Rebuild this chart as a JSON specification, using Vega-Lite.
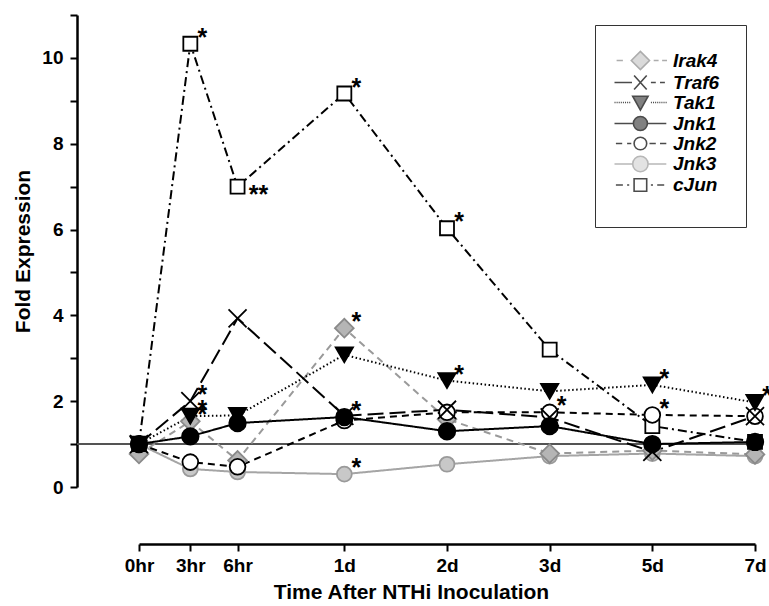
{
  "$schema": "https://vega.github.io/schema/vega-lite/v6.json",
  "width": 616,
  "height": 472,
  "autosize": "none",
  "padding": {"left": 139, "top": 15, "right": 14, "bottom": 119},
  "background": "white",
  "config": {
    "view": {"stroke": null},
    "font": "Liberation Sans",
    "axis": {"grid": false, "domainColor": "black", "domainWidth": 2.5, "tickColor": "black", "tickWidth": 2, "tickSize": 7, "labelFont": "Liberation Sans", "labelFontSize": 19, "labelFontWeight": "bold", "labelColor": "black", "labelFlush": false, "labelOverlap": false, "titleFont": "Liberation Sans", "titleFontSize": 21, "titleFontWeight": "bold", "titleColor": "black"},
    "legend": {"orient": "none", "legendX": 456, "legendY": 10, "padding": 26, "strokeColor": "#333", "symbolSize": 196, "symbolStrokeWidth": 1.6, "symbolOffset": 33, "labelOffset": 0, "labelFont": "Liberation Sans", "labelFontSize": 19, "labelFontWeight": "bold", "labelFontStyle": "italic", "labelColor": "black", "rowPadding": -1.5, "titleOrient": "bottom", "titleFontSize": 6, "titlePadding": 0}
  },
  "data": {"values": [
    {"gene":"Jnk3","t":0,"v":1.0,"sig":""},
    {"gene":"Jnk3","t":0.5,"v":0.42,"sig":""},
    {"gene":"Jnk3","t":0.96,"v":0.35,"sig":""},
    {"gene":"Jnk3","t":2,"v":0.3,"sig":"*"},
    {"gene":"Jnk3","t":3,"v":0.53,"sig":""},
    {"gene":"Jnk3","t":4,"v":0.72,"sig":""},
    {"gene":"Jnk3","t":5,"v":0.78,"sig":""},
    {"gene":"Jnk3","t":6,"v":0.72,"sig":""},
    {"gene":"Irak4","t":0,"v":0.77,"sig":""},
    {"gene":"Irak4","t":0.5,"v":1.53,"sig":"*"},
    {"gene":"Irak4","t":0.96,"v":0.62,"sig":""},
    {"gene":"Irak4","t":2,"v":3.7,"sig":"*"},
    {"gene":"Irak4","t":3,"v":1.58,"sig":""},
    {"gene":"Irak4","t":4,"v":0.78,"sig":""},
    {"gene":"Irak4","t":5,"v":0.85,"sig":""},
    {"gene":"Irak4","t":6,"v":0.76,"sig":""},
    {"gene":"cJun","t":0,"v":1.0,"sig":""},
    {"gene":"cJun","t":0.5,"v":10.33,"sig":"*"},
    {"gene":"cJun","t":0.96,"v":7.0,"sig":"**"},
    {"gene":"cJun","t":2,"v":9.17,"sig":"*"},
    {"gene":"cJun","t":3,"v":6.03,"sig":"*"},
    {"gene":"cJun","t":4,"v":3.2,"sig":""},
    {"gene":"cJun","t":5,"v":1.42,"sig":""},
    {"gene":"cJun","t":6,"v":1.05,"sig":""},
    {"gene":"Jnk2","t":0,"v":1.0,"sig":""},
    {"gene":"Jnk2","t":0.5,"v":0.58,"sig":""},
    {"gene":"Jnk2","t":0.96,"v":0.47,"sig":""},
    {"gene":"Jnk2","t":2,"v":1.55,"sig":""},
    {"gene":"Jnk2","t":3,"v":1.74,"sig":""},
    {"gene":"Jnk2","t":4,"v":1.74,"sig":"*"},
    {"gene":"Jnk2","t":5,"v":1.68,"sig":"*"},
    {"gene":"Jnk2","t":6,"v":1.65,"sig":""},
    {"gene":"Traf6","t":0,"v":1.0,"sig":""},
    {"gene":"Traf6","t":0.5,"v":2.0,"sig":"*"},
    {"gene":"Traf6","t":0.96,"v":3.93,"sig":""},
    {"gene":"Traf6","t":2,"v":1.66,"sig":""},
    {"gene":"Traf6","t":3,"v":1.8,"sig":""},
    {"gene":"Traf6","t":4,"v":1.62,"sig":""},
    {"gene":"Traf6","t":5,"v":0.82,"sig":""},
    {"gene":"Traf6","t":6,"v":1.65,"sig":""},
    {"gene":"Tak1","t":0,"v":1.0,"sig":""},
    {"gene":"Tak1","t":0.5,"v":1.65,"sig":"*"},
    {"gene":"Tak1","t":0.96,"v":1.67,"sig":""},
    {"gene":"Tak1","t":2,"v":3.08,"sig":""},
    {"gene":"Tak1","t":3,"v":2.48,"sig":"*"},
    {"gene":"Tak1","t":4,"v":2.23,"sig":""},
    {"gene":"Tak1","t":5,"v":2.38,"sig":"*"},
    {"gene":"Tak1","t":6,"v":1.97,"sig":"*"},
    {"gene":"Jnk1","t":0,"v":1.0,"sig":""},
    {"gene":"Jnk1","t":0.5,"v":1.18,"sig":""},
    {"gene":"Jnk1","t":0.96,"v":1.49,"sig":""},
    {"gene":"Jnk1","t":2,"v":1.63,"sig":"*"},
    {"gene":"Jnk1","t":3,"v":1.3,"sig":""},
    {"gene":"Jnk1","t":4,"v":1.42,"sig":""},
    {"gene":"Jnk1","t":5,"v":1.0,"sig":""},
    {"gene":"Jnk1","t":6,"v":1.05,"sig":""}
  ]},
  "encoding": {
    "x": {"field": "t", "type": "quantitative", "scale": {"domain": [0, 6], "nice": false, "zero": false},
      "axis": {"title": "Time After NTHi Inoculation", "offset": 57, "values": [0, 0.5, 0.96, 2, 3, 4, 5, 6],
        "labelExpr": "datum.value == 0 ? '0hr' : datum.value == 0.5 ? '3hr' : datum.value == 0.96 ? '6hr' : datum.value == 2 ? '1d' : datum.value == 3 ? '2d' : datum.value == 4 ? '3d' : datum.value == 5 ? '5d' : '7d'",
        "labelPadding": 5, "titlePadding": 6, "titleX": 272}},
    "y": {"field": "v", "type": "quantitative", "scale": {"domain": [0, 11], "nice": false},
      "axis": {"title": "Fold Expression", "offset": 62, "values": [0, 1, 2, 3, 4, 5, 6, 7, 8, 9, 10, 11],
        "labelExpr": "datum.value % 2 == 0 && datum.value <= 10 ? datum.label : ''", "labelPadding": 7, "titlePadding": 8}}
  },
  "layer": [
    {
      "mark": {"type": "rule", "color": "#555", "strokeWidth": 1.2},
      "encoding": {
        "x": {"datum": -0.6, "type": "quantitative"},
        "x2": {"datum": 6},
        "y": {"datum": 1, "type": "quantitative"}
      }
    },
    {
      "mark": {"type": "line", "strokeWidth": 2},
      "encoding": {
        "detail": {"field": "gene"},
        "stroke": {"field": "gene", "type": "nominal", "legend": null,
          "scale": {"domain": ["Irak4", "Traf6", "Tak1", "Jnk1", "Jnk2", "Jnk3", "cJun"], "range": ["#9a9a9a", "#000000", "#000000", "#000000", "#000000", "#a5a5a5", "#000000"]}},
        "strokeDash": {"field": "gene", "type": "nominal", "legend": null,
          "scale": {"domain": ["Irak4", "Traf6", "Tak1", "Jnk1", "Jnk2", "Jnk3", "cJun"], "range": [[7, 5], [16, 6], [1.5, 2.5], [1, 0], [7, 5], [1, 0], [9, 4, 2, 4]]}}
      }
    },
    {
      "mark": {"type": "point", "filled": true, "strokeWidth": 1.8, "opacity": 1},
      "encoding": {
        "shape": {"field": "gene", "type": "nominal", "legend": null,
          "scale": {"domain": ["Irak4", "Traf6", "Tak1", "Jnk1", "Jnk2", "Jnk3", "cJun"], "range": ["diamond", "M-1,-1L1,1M1,-1L-1,1", "triangle-down", "circle", "circle", "circle", "square"]}},
        "size": {"field": "gene", "type": "nominal", "legend": null,
          "scale": {"domain": ["Irak4", "Traf6", "Tak1", "Jnk1", "Jnk2", "Jnk3", "cJun"], "range": [350, 196, 250, 256, 225, 289, 196]}},
        "fill": {"field": "gene", "type": "nominal", "legend": null,
          "scale": {"domain": ["Irak4", "Traf6", "Tak1", "Jnk1", "Jnk2", "Jnk3", "cJun"], "range": ["#b5b5b5", "#000000", "#000000", "#000000", "#ffffff", "#c8c8c8", "#ffffff"]}},
        "stroke": {"field": "gene", "type": "nominal", "legend": null,
          "scale": {"domain": ["Irak4", "Traf6", "Tak1", "Jnk1", "Jnk2", "Jnk3", "cJun"], "range": ["#8a8a8a", "#000000", "#000000", "#000000", "#000000", "#9a9a9a", "#000000"]}}
      }
    },
    {
      "transform": [{"filter": "datum.sig == '*'"}],
      "mark": {"type": "text", "fontSize": 25, "fontWeight": "bold", "font": "Liberation Sans", "color": "black", "align": "center", "baseline": "alphabetic", "dx": 12, "dy": 2},
      "encoding": {"text": {"field": "sig"}}
    },
    {
      "transform": [{"filter": "datum.sig == '**'"}],
      "mark": {"type": "text", "fontSize": 25, "fontWeight": "bold", "font": "Liberation Sans", "color": "black", "align": "center", "baseline": "alphabetic", "dx": 21, "dy": 16},
      "encoding": {"text": {"field": "sig"}}
    },
    {
      "transform": [{"filter": "false"}],
      "mark": {"type": "point", "filled": true, "strokeWidth": 1.6},
      "encoding": {
        "shape": {"field": "gene", "type": "nominal",
          "legend": {"title": " "},
          "scale": {"domain": ["Irak4", "Traf6", "Tak1", "Jnk1", "Jnk2", "Jnk3", "cJun"], "range": [
            "M-6.7,0H-5.8M-4.6,0L-3.3,-1.3L-2,0L-3.3,1.3ZM-1.4,0H-0.7M-0.2,0H0.5",
            "M-7,0H-4.5M-4.2,-1L-2.4,1M-2.4,-1L-4.2,1M-1.8,0H-1.1M-0.5,0H0.2",
            "M-7,0h0.15M-6.7,0h0.15M-6.4,0h0.15M-6.1,0h0.15M-5.8,0h0.15M-5.5,0h0.15M-5.2,0h0.15M-4.9,0h0.15M-4.4,-0.9L-2.2,-0.9L-3.3,1.1ZM-1.8,0h0.15M-1.5,0h0.15M-1.2,0h0.15M-0.9,0h0.15M-0.6,0h0.15M-0.3,0h0.15M0,0h0.15M0.3,0h0.15",
            "M-7,0H-4.3M-2.3,0H0.4M-4.3,0A1,1,0,1,0,-2.3,0A1,1,0,1,0,-4.3,0Z",
            "M-6.8,0H-5.9M-5.2,0H-4.6M-4.2,0A0.9,0.9,0,1,0,-2.4,0A0.9,0.9,0,1,0,-4.2,0ZM-2,0H-1.1M-0.5,0H0.4",
            "M-7,0H-4.4M-2.2,0H0.4M-4.4,0A1.1,1.1,0,1,0,-2.2,0A1.1,1.1,0,1,0,-4.4,0Z",
            "M-6.8,0H-5.8M-5.2,0H-4.9M-4.2,-0.9H-2.4V0.9H-4.2ZM-1.8,0H-1.5M-0.9,0H0.1"
          ]}},
        "fill": {"field": "gene", "type": "nominal",
          "legend": {"title": " "},
          "scale": {"domain": ["Irak4", "Traf6", "Tak1", "Jnk1", "Jnk2", "Jnk3", "cJun"], "range": ["#b5b5b5", "#000000", "#000000", "#000000", "#ffffff", "#c8c8c8", "#ffffff"]}},
        "stroke": {"field": "gene", "type": "nominal",
          "legend": {"title": " "},
          "scale": {"domain": ["Irak4", "Traf6", "Tak1", "Jnk1", "Jnk2", "Jnk3", "cJun"], "range": ["#8a8a8a", "#000000", "#000000", "#000000", "#000000", "#9a9a9a", "#000000"]}}
      }
    }
  ],
  "resolve": {"scale": {"stroke": "independent", "fill": "independent", "shape": "independent", "strokeDash": "independent", "size": "independent"}}
}
